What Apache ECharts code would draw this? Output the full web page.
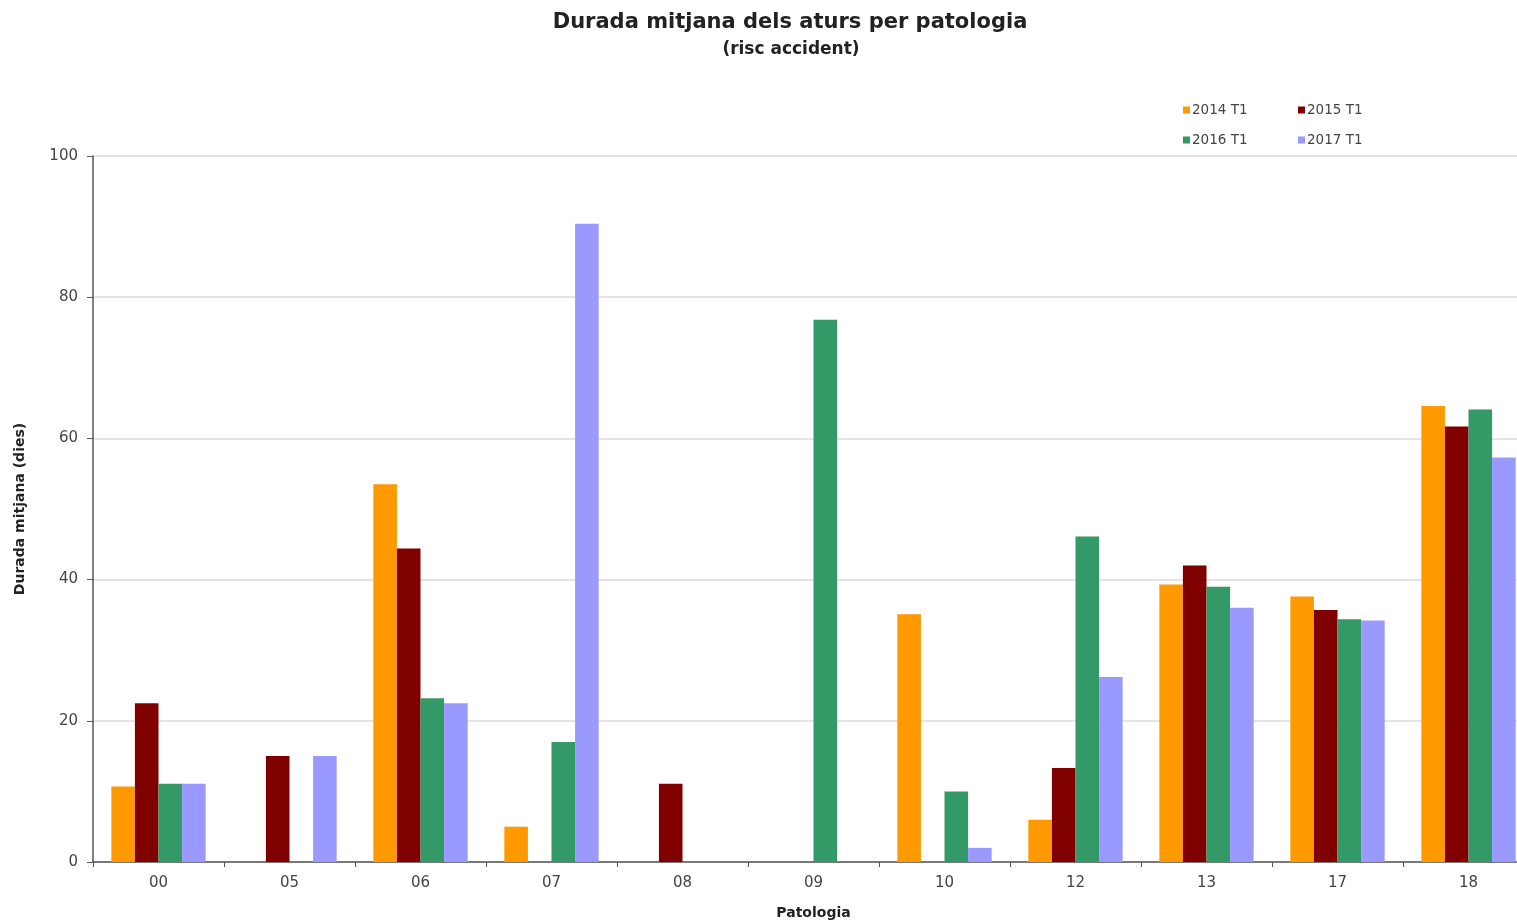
<!DOCTYPE html>
<html>
<head>
<meta charset="utf-8">
<script src="https://cdn.jsdelivr.net/npm/echarts@6/dist/echarts.min.js"></script>
<style>
html,body{margin:0;padding:0;background:#fff;}
#chart{width:1517px;height:924px;}
</style>
</head>
<body>
<div id="chart"></div>
<script>
const categories = ['00','05','06','07','08','09','10','12','13','17','18'];
const seriesNames = ['2014 T1','2015 T1','2016 T1','2017 T1'];
const s2014 = [10.7, null, 53.5, 5.0, null, null, 35.1, 6.0, 39.3, 37.6, 64.6];
const s2015 = [22.5, 15.0, 44.4, null, 11.1, null, null, 13.3, 42.0, 35.7, 61.7];
const s2016 = [11.1, null, 23.2, 17.0, null, 76.8, 10.0, 46.1, 39.0, 34.4, 64.1];
const s2017 = [11.1, 15.0, 22.5, 90.4, null, null, 2.0, 26.2, 36.0, 34.2, 57.3];
const yTicks = [0, 20, 40, 60, 80, 100];
const colors = ['#FF9900', '#800000', '#339966', '#9999FF'];

const chart = echarts.init(document.getElementById('chart'));
const font = 'DejaVu Sans, Verdana, sans-serif';
const values = [s2014, s2015, s2016, s2017];
const legendPos = [[1178, 98], [1293, 98], [1178, 128], [1293, 128]];

chart.setOption({
  animation: false,
  backgroundColor: '#fff',
  color: colors,
  title: [
    {text: 'Durada mitjana dels aturs per patologia', left: 785, top: 7, textAlign: 'center',
     textStyle: {fontFamily: font, fontSize: 21, fontWeight: 'bold', color: '#222'}},
    {text: '(risc accident)', left: 786, top: 36, textAlign: 'center',
     textStyle: {fontFamily: font, fontSize: 17, fontWeight: 'bold', color: '#222'}}
  ],
  legend: seriesNames.map((n, i) => ({
    data: [n], left: legendPos[i][0], top: legendPos[i][1], orient: 'horizontal',
    itemWidth: 7, itemHeight: 7, itemGap: 2, icon: 'rect',
    textStyle: {fontFamily: font, fontSize: 13.5, color: '#444', padding: [0, 0, 0, -3]}
  })),
  grid: {left: 93, width: 1441, top: 156, height: 706, containLabel: false, outerBoundsMode: 'none'},
  xAxis: {
    type: 'category', data: categories, boundaryGap: true,
    name: 'Patologia', nameLocation: 'middle', nameGap: 44,
    nameTextStyle: {fontFamily: font, fontSize: 14, fontWeight: 'bold', color: '#222'},
    axisLine: {lineStyle: {color: '#555', width: 1.5}},
    axisTick: {show: true, inside: false, length: 5, alignWithLabel: false, lineStyle: {color: '#555'}},
    axisLabel: {fontFamily: font, fontSize: 15, color: '#444', margin: 14}
  },
  yAxis: {
    type: 'value', min: 0, max: 100, interval: 20,
    name: 'Durada mitjana (dies)', nameLocation: 'middle', nameGap: 66, nameRotate: 90,
    nameTextStyle: {fontFamily: font, fontSize: 14, fontWeight: 'bold', color: '#222'},
    axisLine: {show: true, lineStyle: {color: '#555', width: 1.5}},
    axisTick: {show: true, inside: false, length: 6, lineStyle: {color: '#555'}},
    axisLabel: {fontFamily: font, fontSize: 15, color: '#444', margin: 15,
      formatter: v => yTicks.includes(v) ? String(v) : ''},
    splitLine: {show: true, lineStyle: {color: '#dddddd', width: 1.5}}
  },
  series: seriesNames.map((n, i) => ({
    name: n, type: 'bar', data: values[i],
    barGap: '0%', barCategoryGap: '28%',
    itemStyle: {color: colors[i]}
  }))
});
</script>
</body>
</html>
